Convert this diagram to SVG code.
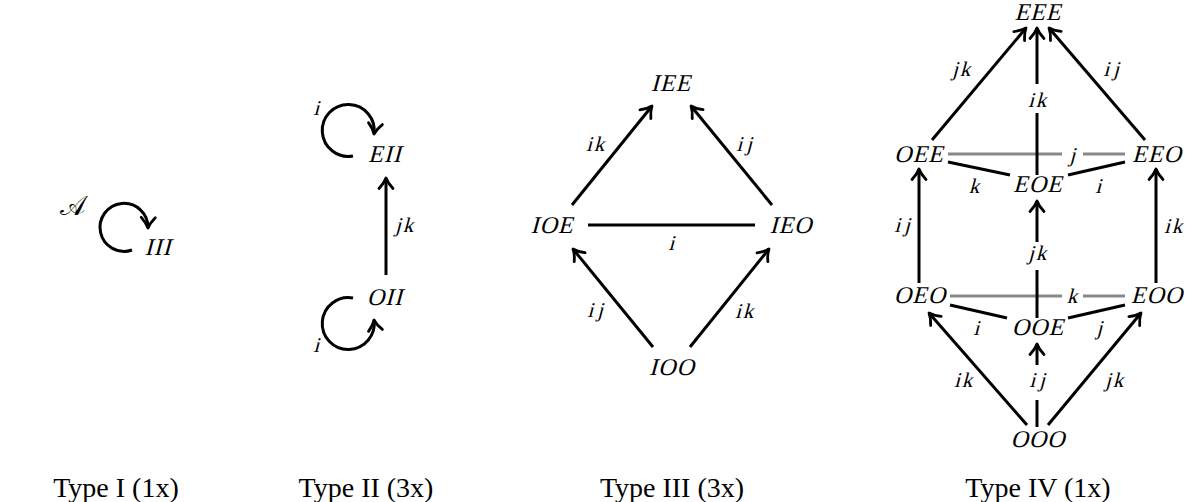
<svg xmlns="http://www.w3.org/2000/svg" width="1199" height="502" viewBox="0 0 1199 502">
<style>
.n,.l{font-family:"Liberation Serif","Times New Roman",serif;font-style:normal;text-anchor:middle;fill:#000;transform-box:fill-box;transform-origin:50% 80.5%;transform:skewX(-15deg)}
.n{font-size:24px;letter-spacing:1px}
.l{font-size:21px}
.t{font-family:"Liberation Serif","Times New Roman",serif;font-size:28px;text-anchor:middle;fill:#000}
.s{font-family:"DejaVu Serif","DejaVu Sans","Noto Sans",serif;font-size:27px;text-anchor:middle;fill:#000}
.e{stroke:#000;stroke-width:3;fill:none}
.a{stroke:#000;stroke-width:3;fill:none;marker-end:url(#ah)}
.g{stroke:#888;stroke-width:3;fill:none}
</style>
<defs>
<marker id="ah" markerUnits="userSpaceOnUse" markerWidth="20" markerHeight="20" refX="0" refY="0" orient="auto" overflow="visible">
<path d="M-10.5,-7 C-6.5,-3.2 -2.5,-0.9 0,0 C-2.5,0.9 -6.5,3.2 -10.5,7" stroke="#000" stroke-width="2.8" fill="none" stroke-linecap="round" stroke-linejoin="round"/>
</marker>
</defs>
<g id="connectors">
<path class="a" d="M132,250 A24,24 0 1 1 148,228"/>
<path class="a" d="M353,156 A26,26 0 1 1 374,134"/>
<path class="a" d="M353,298 A26,26 0 1 0 374,320"/>
<line class="a" x1="386" y1="275" x2="386" y2="178"/>
<line class="a" x1="572" y1="205" x2="652" y2="106"/>
<line class="a" x1="772" y1="205" x2="691" y2="106"/>
<line class="e" x1="588" y1="225" x2="755" y2="225"/>
<line class="a" x1="653" y1="347" x2="573" y2="249"/>
<line class="a" x1="690" y1="347" x2="769" y2="249"/>
<line class="g" x1="948" y1="154" x2="1062" y2="154"/>
<line class="g" x1="1083" y1="154" x2="1125" y2="154"/>
<line class="g" x1="950" y1="296" x2="1062" y2="296"/>
<line class="g" x1="1083" y1="296" x2="1125" y2="296"/>
<line class="a" x1="932" y1="140" x2="1026" y2="28"/>
<line class="a" x1="1145" y1="140" x2="1049" y2="28"/>
<line class="e" x1="1037" y1="175" x2="1037" y2="113"/>
<line class="a" x1="1037" y1="84" x2="1037" y2="28"/>
<line class="e" x1="948" y1="162" x2="1010" y2="175"/>
<line class="e" x1="1068" y1="175" x2="1125" y2="162"/>
<line class="a" x1="919" y1="283" x2="919" y2="169"/>
<line class="a" x1="1156" y1="283" x2="1156" y2="169"/>
<line class="e" x1="1037" y1="318" x2="1037" y2="270"/>
<line class="a" x1="1037" y1="242" x2="1037" y2="201"/>
<line class="e" x1="950" y1="305" x2="1007" y2="318"/>
<line class="e" x1="1068" y1="318" x2="1125" y2="305"/>
<line class="a" x1="1027" y1="425" x2="929" y2="313"/>
<line class="a" x1="1048" y1="425" x2="1141" y2="313"/>
<line class="e" x1="1037" y1="427" x2="1037" y2="400"/>
<line class="a" x1="1037" y1="365" x2="1037" y2="344"/>
</g>
<g id="edge-labels">
<text class="s" x="73" y="215">𝒜</text>
<text class="l" x="316" y="115">i</text>
<text class="l" x="316" y="352">i</text>
<text class="l" x="405" y="232" style="letter-spacing:2px">jk</text>
<text class="l" x="596" y="151" style="letter-spacing:2px">ik</text>
<text class="l" x="746" y="151" style="letter-spacing:4px">ij</text>
<text class="l" x="671" y="250">i</text>
<text class="l" x="597" y="317" style="letter-spacing:4px">ij</text>
<text class="l" x="745" y="318" style="letter-spacing:2px">ik</text>
<text class="l" x="962" y="76" style="letter-spacing:2px">jk</text>
<text class="l" x="1113" y="76" style="letter-spacing:4px">ij</text>
<text class="l" x="1038" y="107" style="letter-spacing:2px">ik</text>
<text class="l" x="1072" y="162">j</text>
<text class="l" x="974" y="193">k</text>
<text class="l" x="1098" y="193">i</text>
<text class="l" x="904" y="232" style="letter-spacing:4px">ij</text>
<text class="l" x="1174" y="233" style="letter-spacing:2px">ik</text>
<text class="l" x="1038" y="260" style="letter-spacing:2px">jk</text>
<text class="l" x="1072" y="303">k</text>
<text class="l" x="976" y="335">i</text>
<text class="l" x="1099" y="335">j</text>
<text class="l" x="964" y="387" style="letter-spacing:2px">ik</text>
<text class="l" x="1039" y="387" style="letter-spacing:4px">ij</text>
<text class="l" x="1115" y="387" style="letter-spacing:2px">jk</text>
</g>
<g id="node-III"><text class="n" x="158" y="255">III</text></g>
<g id="node-EII"><text class="n" x="385" y="162">EII</text></g>
<g id="node-OII"><text class="n" x="385" y="305">OII</text></g>
<g id="node-IEE"><text class="n" x="671" y="91">IEE</text></g>
<g id="node-IOE"><text class="n" x="552" y="233">IOE</text></g>
<g id="node-IEO"><text class="n" x="791" y="233">IEO</text></g>
<g id="node-IOO"><text class="n" x="672" y="375">IOO</text></g>
<g id="node-EEE"><text class="n" x="1038" y="20">EEE</text></g>
<g id="node-OEE"><text class="n" x="919" y="162">OEE</text></g>
<g id="node-EEO"><text class="n" x="1157" y="162">EEO</text></g>
<g id="node-EOE"><text class="n" x="1038" y="192">EOE</text></g>
<g id="node-OEO"><text class="n" x="920" y="303">OEO</text></g>
<g id="node-EOO"><text class="n" x="1157" y="303">EOO</text></g>
<g id="node-OOE"><text class="n" x="1038" y="335">OOE</text></g>
<g id="node-OOO"><text class="n" x="1038" y="447">OOO</text></g>
<g id="titles">
<text class="t" x="116" y="497">Type I (1x)</text>
<text class="t" x="366" y="497">Type II (3x)</text>
<text class="t" x="672" y="497">Type III (3x)</text>
<text class="t" x="1038" y="497">Type IV (1x)</text>
</g>
</svg>
